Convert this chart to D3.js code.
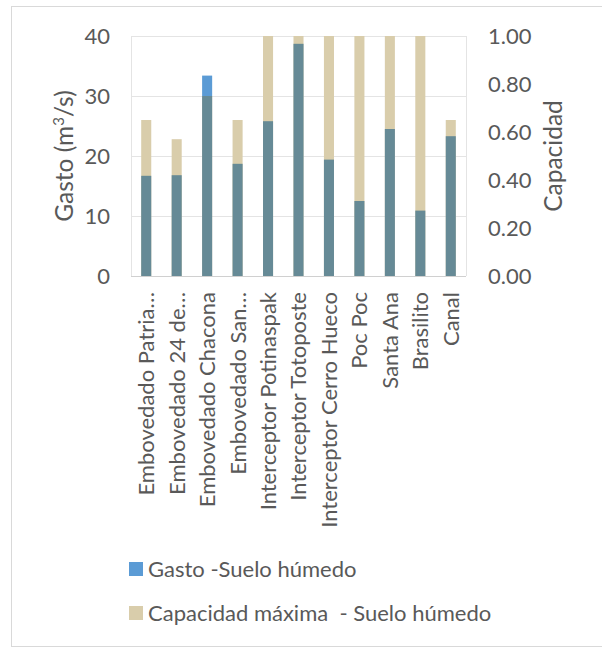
<!DOCTYPE html>
<html><head><meta charset="utf-8">
<script src="https://cdn.jsdelivr.net/npm/d3@7"></script>
<style>body{margin:0;background:#fff}text{font-family:Lato,sans-serif;fill:#595959}</style>
</head><body><svg id="c" width="602" height="648"></svg>
<script>
const categories = ["Embovedado Patria…","Embovedado 24 de…","Embovedado Chacona","Embovedado San…","Interceptor Potinaspak","Interceptor Totoposte","Interceptor Cerro Hueco","Poc Poc","Santa Ana","Brasilito","Canal"];
const gasto = [16.7,16.8,33.4,18.7,25.8,38.7,19.4,12.5,24.5,10.9,23.3];
const capacidad = [26,22.8,30,26,40,40,40,40,40,40,26];
const leftTicks = [0,10,20,30,40];
const rightTicks = [0,0.2,0.4,0.6,0.8,1.0];
const seriesNames = ["Gasto -Suelo húmedo","Capacidad máxima  - Suelo húmedo"];

const FS = 22, TS = 24.5;
const svg = d3.select("#c");
const W=602,H=648;
const m={l:131,r:466,t:36,b:276};
svg.append("rect").attr("x",11.5).attr("y",6.5).attr("width",W).attr("height",640).attr("fill","none").attr("stroke","#d9d9d9");

const x = d3.scaleBand().domain(categories).range([m.l,m.r]);
const y = d3.scaleLinear().domain([0,40]).range([m.b,m.t]);
const y2 = d3.scaleLinear().domain([0,1]).range([m.b,m.t]);

svg.append("g").selectAll("line").data(leftTicks.slice(1)).join("line")
  .attr("x1",m.l).attr("x2",m.r).attr("y1",d=>y(d)+0.5).attr("y2",d=>y(d)+0.5)
  .attr("stroke","#e4e4e4").attr("stroke-width",1.2);
svg.append("line").attr("x1",m.l+0.5).attr("x2",m.l+0.5).attr("y1",m.t).attr("y2",m.b).attr("stroke","#e4e4e4");
svg.append("line").attr("x1",m.r+0.5).attr("x2",m.r+0.5).attr("y1",m.t).attr("y2",m.b).attr("stroke","#e4e4e4");

const bw = x.bandwidth()*0.33;
const bx = d=>x(d)+ (x.bandwidth()-bw)/2;
const cTan="#d9cdab", cBlue="#5b9bd5", cMix="#668a96";
const g = svg.append("g");
categories.forEach((c,i)=>{
  const cap=Math.min(capacidad[i],40), gs=Math.min(gasto[i],40);
  g.append("rect").attr("x",bx(c)).attr("width",bw).attr("y",y(cap)).attr("height",y(0)-y(cap)).attr("fill",cTan);
  if(gs>cap) g.append("rect").attr("x",bx(c)).attr("width",bw).attr("y",y(gs)).attr("height",y(cap)-y(gs)).attr("fill",cBlue);
  const ov=Math.min(gs,cap);
  g.append("rect").attr("x",bx(c)).attr("width",bw).attr("y",y(ov)).attr("height",y(0)-y(ov)).attr("fill",cMix);
});
svg.append("line").attr("x1",m.l).attr("x2",m.r).attr("y1",m.b+0.5).attr("y2",m.b+0.5).attr("stroke","#d0d0d0").attr("stroke-width",1.2);

svg.append("g").selectAll("text").data(leftTicks).join("text")
  .attr("x",110).attr("y",d=>y(d)).attr("dy","0.36em").attr("text-anchor","end")
  .attr("font-size",FS).text(d=>d);
svg.append("g").selectAll("text").data(rightTicks).join("text")
  .attr("x",488).attr("y",d=>y2(d)).attr("dy","0.36em").attr("text-anchor","start")
  .attr("font-size",FS).text(d=>d.toFixed(2));
svg.append("text").attr("transform","translate(73,156) rotate(-90)").attr("text-anchor","middle").attr("font-size",TS)
  .html('Gasto (m<tspan baseline-shift="super" font-size="15">3</tspan>/s)');
svg.append("text").attr("transform","translate(562,156) rotate(-90)").attr("text-anchor","middle").attr("font-size",TS).text("Capacidad");

svg.append("g").selectAll("text").data(categories).join("text")
  .attr("transform",d=>`translate(${x(d)+x.bandwidth()/2},292) rotate(-90)`)
  .attr("dy","0.36em").attr("text-anchor","end").attr("font-size",FS).text(d=>d);

const lg = svg.append("g");
[[cBlue,562],[cTan,606]].forEach((v,i)=>{
  lg.append("rect").attr("x",129).attr("y",v[1]).attr("width",14).attr("height",14).attr("fill",v[0]);
  lg.append("text").attr("x",148).attr("y",v[1]+7).attr("dy","0.36em").attr("font-size",FS).attr("xml:space","preserve").text(seriesNames[i]);
});
</script></body></html>
